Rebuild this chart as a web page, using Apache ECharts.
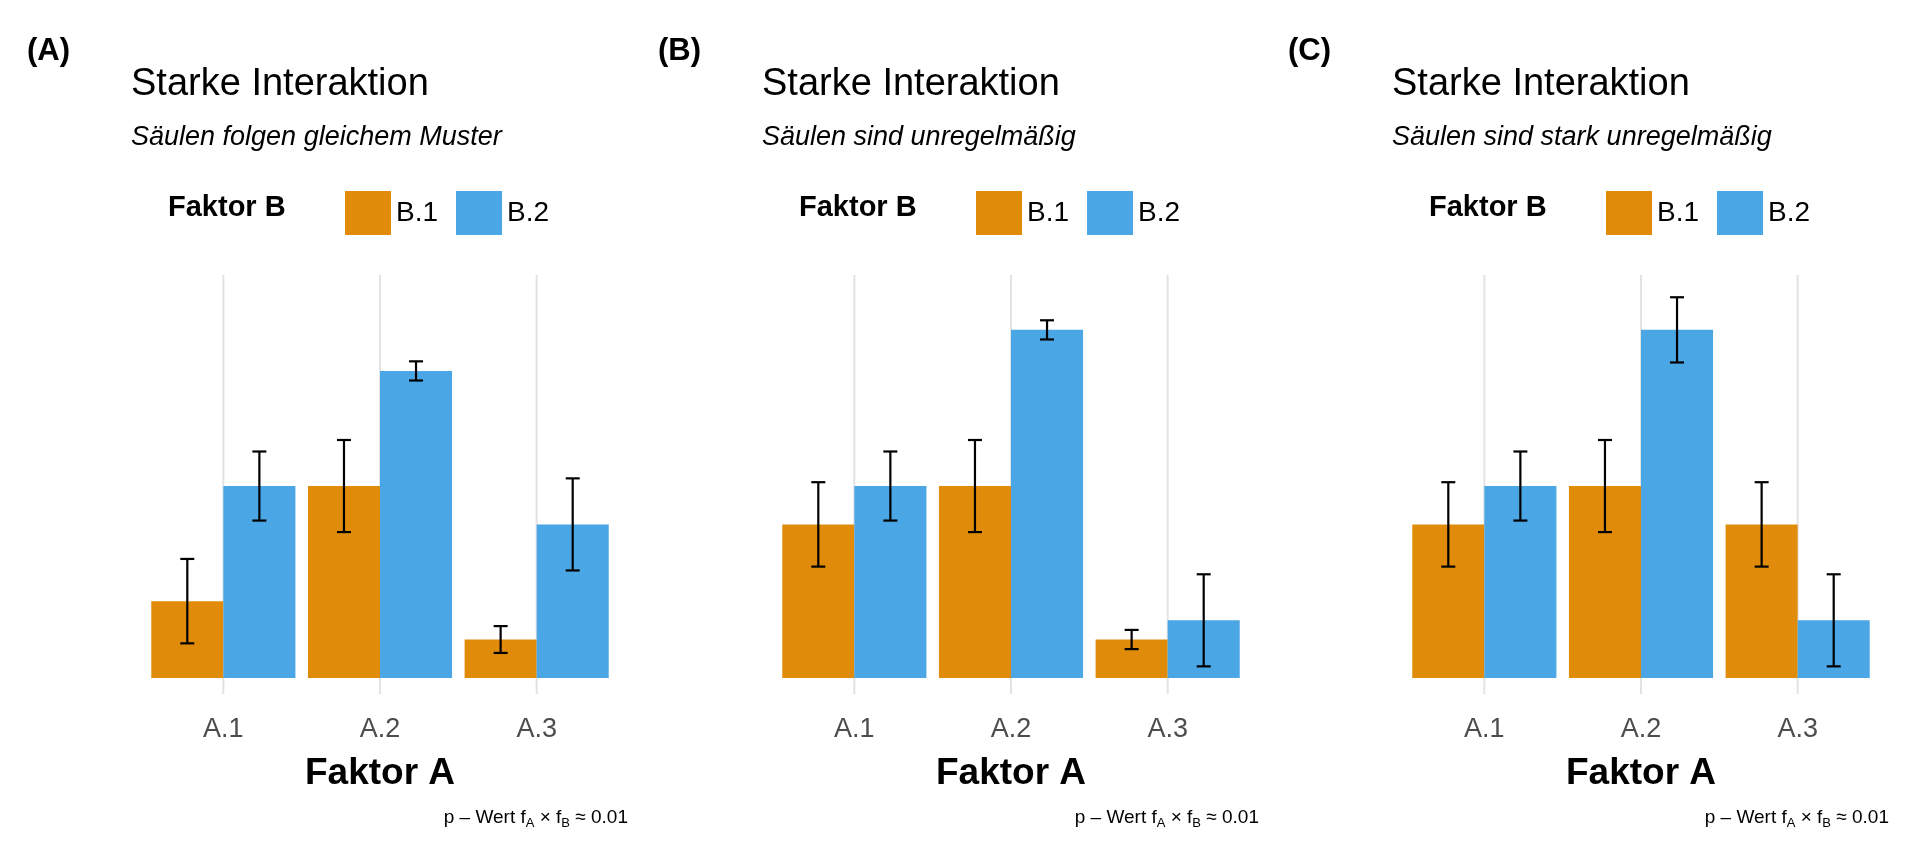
<!DOCTYPE html>
<html><head><meta charset="utf-8">
<script src="https://cdn.jsdelivr.net/npm/echarts@6/dist/echarts.min.js"></script>
<style>html,body{margin:0;background:#fff}#c{width:1920px;height:864px}</style>
</head><body><div id="c"></div>
<script>
// Daten je Panel
const categories = ['A.1', 'A.2', 'A.3'];
const panelTags = ['(A)', '(B)', '(C)'];
const subtitles = ['Säulen folgen gleichem Muster', 'Säulen sind unregelmäßig', 'Säulen sind stark unregelmäßig'];
const b1Values = [[2, 5, 1], [4, 5, 1], [4, 5, 4]];
const b2Values = [[5, 8, 4], [5, 9.07, 1.5], [5, 9.07, 1.5]];
const b1Err = [[1.1, 1.2, 0.35], [1.1, 1.2, 0.25], [1.1, 1.2, 1.1]];
const b2Err = [[0.9, 0.25, 1.2], [0.9, 0.25, 1.2], [0.9, 0.85, 1.2]];

const orange = '#E08C0A', blue = '#4AA6E4';
const font = 'Liberation Sans, Arial, sans-serif';
const offsets = [0, 631, 1261];

const grids = [], xAxes = [], yAxes = [], series = [], legends = [], graphics = [];
offsets.forEach((dx, p) => {
  grids.push({ left: 145 + dx, width: 470, top: 275, height: 419 });
  xAxes.push({ gridIndex: p, type: 'category', data: categories,
    axisLine: { show: false }, axisTick: { show: false }, splitLine: { show: false },
    axisLabel: { fontSize: 27, color: '#4d4d4d', fontFamily: font, margin: 22 } });
  yAxes.push({ gridIndex: p, type: 'value', min: -0.42, max: 10.5, show: false });

  // vertikale Gitterlinien
  series.push({ type: 'custom', xAxisIndex: p, yAxisIndex: p, z: 0, silent: true,
    data: categories.map((c, i) => [i]),
    renderItem: (params, api) => {
      const a = api.coord([api.value(0), 10.5]), b = api.coord([api.value(0), -0.42]);
      return { type: 'line', shape: { x1: a[0], y1: a[1], x2: b[0], y2: b[1] },
        style: { stroke: '#e3e3e3', lineWidth: 2 } };
    } });

  series.push({ name: 'B.1', type: 'bar', xAxisIndex: p, yAxisIndex: p, data: b1Values[p],
    itemStyle: { color: orange }, barGap: '0%', barCategoryGap: '8%', z: 2 });
  series.push({ name: 'B.2', type: 'bar', xAxisIndex: p, yAxisIndex: p, data: b2Values[p],
    itemStyle: { color: blue }, barGap: '0%', barCategoryGap: '8%', z: 2 });

  // Fehlerbalken
  [[b1Values[p], b1Err[p], -1], [b2Values[p], b2Err[p], 1]].forEach(([vals, errs, side]) => {
    series.push({ type: 'custom', xAxisIndex: p, yAxisIndex: p, z: 5, silent: true,
      data: vals.map((v, i) => [i, v - errs[i], v + errs[i]]),
      renderItem: (params, api) => {
        const band = api.size([1, 0])[0];
        const x = api.coord([api.value(0), 0])[0] + side * band * 0.92 / 4;
        const lo = api.coord([0, api.value(1)])[1], hi = api.coord([0, api.value(2)])[1];
        const w = 7, st = { stroke: '#000', lineWidth: 2.2 };
        return { type: 'group', children: [
          { type: 'line', shape: { x1: x, y1: lo, x2: x, y2: hi }, style: st },
          { type: 'line', shape: { x1: x - w, y1: lo, x2: x + w, y2: lo }, style: st },
          { type: 'line', shape: { x1: x - w, y1: hi, x2: x + w, y2: hi }, style: st }
        ] };
      } });
  });

  legends.push({ data: ['B.1', 'B.2'], left: 340 + dx, top: 186, itemWidth: 46, itemHeight: 44,
    itemGap: 18, icon: 'rect', textStyle: { fontSize: 28, color: '#000', fontFamily: font } });

  graphics.push(
    { type: 'text', left: 27 + dx, top: 36, style: { text: panelTags[p], font: 'bold 31px ' + font, fill: '#000' } },
    { type: 'text', left: 131 + dx, top: 66, style: { text: 'Starke Interaktion', font: '38px ' + font, fill: '#000' } },
    { type: 'text', left: 131 + dx, top: 124, style: { text: subtitles[p], font: 'italic 27px ' + font, fill: '#000' } },
    { type: 'text', left: 168 + dx, top: 193, style: { text: 'Faktor B', font: 'bold 29px ' + font, fill: '#000' } },
    { type: 'text', x: 380 + dx, y: 774, style: { text: 'Faktor A', font: 'bold 37px ' + font, fill: '#000', align: 'center', verticalAlign: 'middle' } },
    { type: 'text', x: 628 + dx, y: 818, style: {
        text: 'p – Wert f{s|A} × f{s|B} ≈ 0.01', font: '19px ' + font, fill: '#000',
        align: 'right', verticalAlign: 'middle',
        rich: { s: { fontSize: 13, fontFamily: font, padding: [10, 0, 0, 0] } } } }
  );
});

const chart = echarts.init(document.getElementById('c'));
chart.setOption({
  animation: false, backgroundColor: '#fff',
  grid: grids, xAxis: xAxes, yAxis: yAxes, series: series, legend: legends, graphic: graphics
});
</script></body></html>
